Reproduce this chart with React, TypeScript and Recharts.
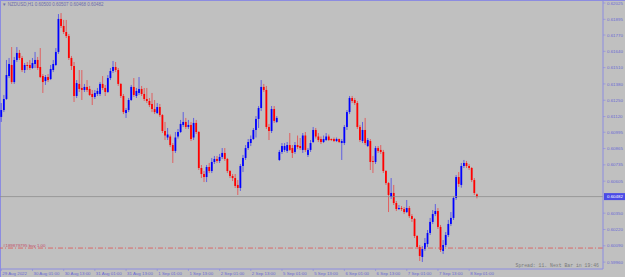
import React from 'react';
import { ComposedChart, Bar, XAxis, YAxis, ReferenceLine } from 'recharts';

// NZDUSD H1, 29 Aug 13:00 .. 8 Sep 04:00 (weekend skipped)
const openP = [
  0.61117, 0.61172, 0.61260, 0.61443, 0.61531, 0.61395, 0.61571, 0.61627, 0.61587, 0.61491,
  0.61531, 0.61531, 0.61507, 0.61539, 0.61571, 0.61515, 0.61443, 0.61403, 0.61435, 0.61419,
  0.61491, 0.61531, 0.61635, 0.61898, 0.61842, 0.61794, 0.61762, 0.61587, 0.61523, 0.61284,
  0.61380, 0.61348, 0.61332, 0.61356, 0.61340, 0.61300, 0.61276, 0.61300, 0.61300, 0.61380,
  0.61348, 0.61316, 0.61427, 0.61483, 0.61515, 0.61491, 0.61380, 0.61284, 0.61148, 0.61172,
  0.61252, 0.61356, 0.61284, 0.61308, 0.61340, 0.61300, 0.61260, 0.61244, 0.61220, 0.61180,
  0.61148, 0.61196, 0.61132, 0.61005, 0.60953, 0.60961, 0.60893, 0.60846, 0.60961, 0.60997,
  0.61053, 0.61077, 0.61037, 0.61053, 0.60953, 0.61069, 0.60997, 0.60710, 0.60662, 0.60638,
  0.60718, 0.60686, 0.60758, 0.60782, 0.60766, 0.60798, 0.60830, 0.60782, 0.60686, 0.60646,
  0.60630, 0.60575, 0.60551, 0.60726, 0.60790, 0.60869, 0.60909, 0.60941, 0.61013, 0.61101,
  0.61188, 0.61356, 0.61332, 0.61037, 0.61005, 0.61180, 0.61077, 0.60774, 0.60838, 0.60854,
  0.60846, 0.60893, 0.60869, 0.60838, 0.60893, 0.60885, 0.60854, 0.60969, 0.60814, 0.60854,
  0.60917, 0.61013, 0.60961, 0.60941, 0.60917, 0.60933, 0.60961, 0.60941, 0.60941, 0.60925,
  0.60941, 0.60909, 0.60909, 0.61037, 0.61156, 0.61268, 0.61252, 0.61228, 0.61037, 0.60925,
  0.61013, 0.60885, 0.60925, 0.60766, 0.60758, 0.60869, 0.60854, 0.60838, 0.60686, 0.60590,
  0.60479, 0.60511, 0.60431, 0.60383, 0.60391, 0.60383, 0.60359, 0.60391, 0.60327, 0.60304,
  0.60168, 0.60080, 0.60001, 0.60064, 0.60104, 0.60192, 0.60280, 0.60343, 0.60367, 0.60240,
  0.60049, 0.60096, 0.60176, 0.60264, 0.60312, 0.60471, 0.60638, 0.60575, 0.60726, 0.60750,
  0.60726, 0.60710, 0.60614, 0.60500,
];
const highP = [
  0.61228, 0.61292, 0.61571, 0.61587, 0.61674, 0.61595, 0.61674, 0.61651, 0.61603, 0.61547,
  0.61555, 0.61571, 0.61587, 0.61635, 0.61595, 0.61666, 0.61459, 0.61451, 0.61459, 0.61531,
  0.61571, 0.61666, 0.61937, 0.61945, 0.61890, 0.61890, 0.61778, 0.61603, 0.61555, 0.61411,
  0.61491, 0.61491, 0.61380, 0.61411, 0.61364, 0.61332, 0.61332, 0.61348, 0.61395, 0.61443,
  0.61372, 0.61451, 0.61507, 0.61563, 0.61555, 0.61507, 0.61387, 0.61300, 0.61188, 0.61268,
  0.61372, 0.61427, 0.61348, 0.61435, 0.61364, 0.61348, 0.61348, 0.61268, 0.61308, 0.61252,
  0.61228, 0.61220, 0.61140, 0.61077, 0.61029, 0.60977, 0.60909, 0.60997, 0.61021, 0.61093,
  0.61156, 0.61109, 0.61093, 0.61077, 0.61109, 0.61093, 0.61005, 0.60734, 0.60686, 0.60734,
  0.60750, 0.60790, 0.60806, 0.60806, 0.60822, 0.60869, 0.60869, 0.60790, 0.60694, 0.60662,
  0.60662, 0.60614, 0.60742, 0.60814, 0.60893, 0.60941, 0.60969, 0.61029, 0.61124, 0.61204,
  0.61411, 0.61380, 0.61364, 0.61061, 0.61204, 0.61204, 0.61124, 0.60854, 0.60909, 0.60909,
  0.60917, 0.60989, 0.60893, 0.60917, 0.60969, 0.60949, 0.60989, 0.60997, 0.60869, 0.60933,
  0.61037, 0.61029, 0.60989, 0.60961, 0.60969, 0.60989, 0.60977, 0.60945, 0.60953, 0.60953,
  0.60945, 0.60941, 0.61053, 0.61172, 0.61284, 0.61284, 0.61268, 0.61244, 0.61053, 0.61077,
  0.61109, 0.60949, 0.60941, 0.60806, 0.60885, 0.60885, 0.60893, 0.60854, 0.60694, 0.60598,
  0.60630, 0.60575, 0.60447, 0.60415, 0.60407, 0.60399, 0.60455, 0.60407, 0.60343, 0.60312,
  0.60176, 0.60096, 0.60088, 0.60152, 0.60216, 0.60312, 0.60375, 0.60423, 0.60391, 0.60256,
  0.60136, 0.60200, 0.60296, 0.60359, 0.60487, 0.60654, 0.60678, 0.60750, 0.60774, 0.60766,
  0.60742, 0.60718, 0.60630, 0.60507,
];
const lowP = [
  0.61077, 0.61156, 0.61252, 0.61427, 0.61380, 0.61380, 0.61555, 0.61571, 0.61475, 0.61467,
  0.61491, 0.61491, 0.61499, 0.61507, 0.61491, 0.61427, 0.61308, 0.61372, 0.61395, 0.61411,
  0.61475, 0.61523, 0.61619, 0.61826, 0.61778, 0.61746, 0.61571, 0.61491, 0.61236, 0.61268,
  0.61316, 0.61252, 0.61316, 0.61316, 0.61284, 0.61212, 0.61260, 0.61284, 0.61284, 0.61332,
  0.61284, 0.61308, 0.61411, 0.61467, 0.61475, 0.61364, 0.61268, 0.61140, 0.61109, 0.61156,
  0.61244, 0.61276, 0.61268, 0.61292, 0.61284, 0.61244, 0.61228, 0.61196, 0.61156, 0.61140,
  0.61140, 0.61117, 0.60989, 0.60933, 0.60933, 0.60877, 0.60750, 0.60830, 0.60945, 0.60989,
  0.61037, 0.61021, 0.61021, 0.60925, 0.60933, 0.60981, 0.60694, 0.60630, 0.60598, 0.60598,
  0.60670, 0.60670, 0.60742, 0.60750, 0.60750, 0.60782, 0.60766, 0.60670, 0.60630, 0.60606,
  0.60551, 0.60495, 0.60527, 0.60678, 0.60774, 0.60854, 0.60885, 0.60933, 0.60953, 0.61029,
  0.61164, 0.61316, 0.61021, 0.60933, 0.60989, 0.61069, 0.61069, 0.60766, 0.60822, 0.60838,
  0.60830, 0.60846, 0.60790, 0.60822, 0.60861, 0.60854, 0.60830, 0.60838, 0.60798, 0.60838,
  0.60909, 0.60945, 0.60917, 0.60901, 0.60909, 0.60925, 0.60925, 0.60925, 0.60917, 0.60917,
  0.60909, 0.60774, 0.60893, 0.61013, 0.61140, 0.61228, 0.61212, 0.61021, 0.60917, 0.60909,
  0.60893, 0.60877, 0.60694, 0.60670, 0.60742, 0.60830, 0.60822, 0.60670, 0.60575, 0.60359,
  0.60463, 0.60415, 0.60367, 0.60375, 0.60367, 0.60343, 0.60351, 0.60312, 0.60280, 0.60152,
  0.60064, 0.59969, 0.59961, 0.60049, 0.60080, 0.60176, 0.60264, 0.60327, 0.60224, 0.60041,
  0.60025, 0.60080, 0.60160, 0.60248, 0.60296, 0.60455, 0.60559, 0.60553, 0.60710, 0.60710,
  0.60694, 0.60598, 0.60495, 0.60468,
];
const closeP = [
  0.61172, 0.61260, 0.61451, 0.61539, 0.61395, 0.61571, 0.61627, 0.61587, 0.61491, 0.61531,
  0.61523, 0.61507, 0.61547, 0.61571, 0.61507, 0.61435, 0.61395, 0.61435, 0.61411, 0.61499,
  0.61539, 0.61635, 0.61898, 0.61842, 0.61794, 0.61762, 0.61587, 0.61523, 0.61284, 0.61387,
  0.61340, 0.61332, 0.61356, 0.61332, 0.61292, 0.61276, 0.61308, 0.61324, 0.61380, 0.61348,
  0.61316, 0.61427, 0.61483, 0.61515, 0.61491, 0.61380, 0.61284, 0.61156, 0.61172, 0.61252,
  0.61356, 0.61292, 0.61324, 0.61340, 0.61300, 0.61260, 0.61244, 0.61212, 0.61180, 0.61156,
  0.61196, 0.61132, 0.61005, 0.60969, 0.60977, 0.60893, 0.60846, 0.60953, 0.60997, 0.61061,
  0.61077, 0.61037, 0.61053, 0.60941, 0.61069, 0.60997, 0.60710, 0.60662, 0.60638, 0.60718,
  0.60686, 0.60758, 0.60782, 0.60766, 0.60798, 0.60830, 0.60782, 0.60686, 0.60646, 0.60630,
  0.60567, 0.60551, 0.60726, 0.60790, 0.60869, 0.60917, 0.60941, 0.61013, 0.61101, 0.61188,
  0.61356, 0.61332, 0.61037, 0.61005, 0.61180, 0.61085, 0.61109, 0.60838, 0.60885, 0.60885,
  0.60893, 0.60854, 0.60830, 0.60893, 0.60877, 0.60869, 0.60969, 0.60854, 0.60854, 0.60909,
  0.61013, 0.60961, 0.60933, 0.60917, 0.60941, 0.60961, 0.60933, 0.60933, 0.60925, 0.60941,
  0.60917, 0.60925, 0.61037, 0.61156, 0.61268, 0.61244, 0.61228, 0.61037, 0.60933, 0.61013,
  0.60909, 0.60933, 0.60758, 0.60758, 0.60869, 0.60846, 0.60838, 0.60686, 0.60590, 0.60495,
  0.60511, 0.60431, 0.60383, 0.60391, 0.60383, 0.60359, 0.60391, 0.60327, 0.60304, 0.60168,
  0.60080, 0.60009, 0.60064, 0.60112, 0.60192, 0.60280, 0.60343, 0.60367, 0.60240, 0.60057,
  0.60096, 0.60176, 0.60264, 0.60312, 0.60471, 0.60638, 0.60583, 0.60726, 0.60750, 0.60726,
  0.60710, 0.60614, 0.60511, 0.60482,
];

const timeTickBars = [0, 12, 24, 36, 48, 60, 72, 84, 96, 108, 120, 132, 144, 156, 168, 180];
const timeTickLabels = [
  '29 Aug 2022', '30 Aug 01:00', '30 Aug 13:00', '31 Aug 01:00', '31 Aug 13:00',
  '1 Sep 01:00', '1 Sep 13:00', '2 Sep 01:00', '2 Sep 13:00', '5 Sep 01:00',
  '5 Sep 13:00', '6 Sep 01:00', '6 Sep 13:00', '7 Sep 01:00', '7 Sep 13:00', '8 Sep 01:00',
];
const priceTicks = [
  0.62025, 0.61895, 0.6177, 0.6164, 0.6151, 0.6138, 0.6125, 0.6112, 0.60995,
  0.60865, 0.60735, 0.60605, 0.6035, 0.6022, 0.6009, 0.5996,
];
const lastPrice = 0.60482;
const orderPrice = 0.60072;
const orderLabel = '#189879795 buy 1.00';
const titleText = '\u25BC NZDUSD,H1  0.60500 0.60507 0.60468 0.60482';
const spreadText = 'Spread: 11. Next Bar in 19:46';

// empty slots on the right (chart shift)
const shiftSlots = 48;

const data = Array.from({ length: openP.length + shiftSlots }, (_, i) =>
  i < openP.length
    ? { i, open: openP[i], high: highP[i], low: lowP[i], close: closeP[i] }
    : { i }
);

const AXIS = '#8c8ce0';
const TEXT = '#6a6ad6';
const FONT = '"Liberation Sans", Arial, sans-serif';

function Candle(props: any) {
  const { x, y, width, height, payload } = props;
  if (!payload || payload.high == null) return null;
  const { open, close, high, low } = payload;
  const top = Math.min(y, y + height);
  const h = Math.abs(height);
  const k = high === low ? 0 : h / (high - low);
  const cx = x + width / 2;
  const yo = top + (high - open) * k;
  const yc = top + (high - close) * k;
  const color = close >= open ? '#0000ff' : '#ff0000';
  const bodyTop = Math.min(yo, yc);
  const bodyH = Math.max(Math.abs(yo - yc), 1);
  return (
    <g>
      <rect x={cx - 0.5} y={top} width={1} height={Math.max(h, 1)} fill={color} fillOpacity={0.5} />
      <rect x={cx - 0.9} y={bodyTop} width={1.8} height={bodyH} fill={color} />
    </g>
  );
}

function TimeTick(props: any) {
  const { x, y, payload } = props;
  const idx = timeTickBars.indexOf(payload.value);
  return (
    <g>
      <line x1={x} y1={y - 2} x2={x} y2={y} stroke={AXIS} strokeWidth={0.7} />
      <text x={x + 1} y={y + 4} fontSize={4.4} fill={TEXT} fontFamily={FONT} textAnchor="start">
        {timeTickLabels[idx]}
      </text>
    </g>
  );
}

function PriceTick(props: any) {
  const { x, y, payload } = props;
  const v = payload.value as number;
  if (v === lastPrice) {
    return (
      <g>
        <rect x={x - 3} y={y - 3.5} width={22} height={7} fill="#4b4be6" />
        <text x={x} y={y + 1.6} fontSize={4.4} fill="#ffffff" fontFamily={FONT}>
          {v.toFixed(5)}
        </text>
      </g>
    );
  }
  return (
    <g>
      <line x1={x - 4} y1={y} x2={x - 1.5} y2={y} stroke={AXIS} strokeWidth={0.7} />
      <text x={x} y={y + 1.6} fontSize={4.4} fill={TEXT} fontFamily={FONT}>
        {v.toFixed(5)}
      </text>
    </g>
  );
}

function OrderLabel(props: any) {
  const vb = props.viewBox || {};
  return (
    <text x={(vb.x || 0) + 3} y={(vb.y || 0) - 0.8} fontSize={4.4} fill="#c0506a" fontFamily={FONT}>
      {orderLabel}
    </text>
  );
}

export default function App() {
  return (
    <div
      style={{
        position: 'absolute',
        left: 0,
        top: 0,
        width: 625,
        height: 277,
        background: '#c0c0c0',
        boxShadow: `inset 1px 1px 0 ${AXIS}`,
      }}
    >
      <ComposedChart width={625} height={277} data={data} margin={{ top: 0, right: 0, bottom: 0, left: 0 }}>
        <XAxis
          dataKey="i"
          type="category"
          ticks={timeTickBars}
          interval={0}
          height={8}
          tickSize={2}
          tickMargin={0}
          tickLine={false}
          axisLine={{ stroke: AXIS }}
          tick={<TimeTick />}
        />
        <YAxis
          orientation="right"
          type="number"
          domain={[0.59905, 0.62049]}
          allowDataOverflow
          ticks={[...priceTicks, lastPrice]}
          interval={0}
          width={22}
          tickSize={3}
          tickMargin={1}
          tickLine={false}
          axisLine={{ stroke: AXIS }}
          tick={<PriceTick />}
        />
        <ReferenceLine y={lastPrice} stroke="#8e8e8e" strokeWidth={0.8} />
        <ReferenceLine
          y={orderPrice}
          stroke="#e05050"
          strokeWidth={0.8}
          strokeDasharray="5 2 1 2"
          label={OrderLabel}
        />
        <Bar
          dataKey={(d: any) => (d.high == null ? null : [d.low, d.high])}
          shape={<Candle />}
          isAnimationActive={false}
        />
      </ComposedChart>
      <svg
        width={625}
        height={277}
        style={{ position: 'absolute', left: 0, top: 0, pointerEvents: 'none' }}
      >
        <text x={2} y={6} fontSize={4.5} fill="#6e6eaa" fontFamily={FONT}>
          {titleText}
        </text>
        <text
          x={599}
          y={267}
          fontSize={4.8}
          fill="#7a7a7a"
          fontFamily='"Liberation Mono", "DejaVu Sans Mono", monospace'
          textAnchor="end"
        >
          {spreadText}
        </text>
      </svg>
    </div>
  );
}
